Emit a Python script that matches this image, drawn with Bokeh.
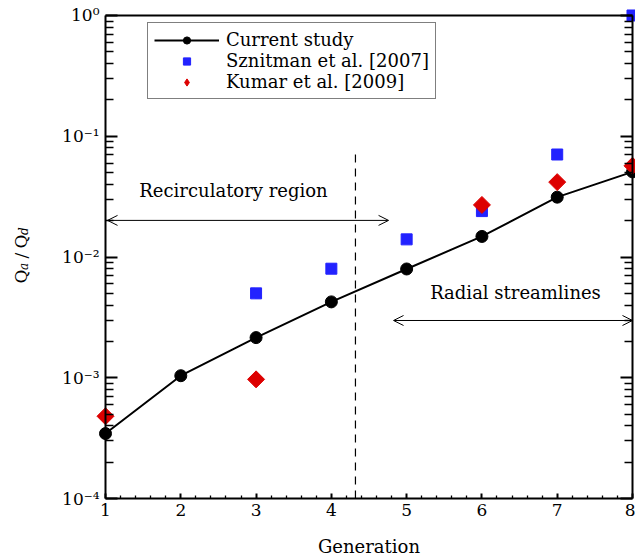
import numpy as np
from bokeh.plotting import figure
from bokeh.models import (Range1d, LogAxis, LinearAxis, FixedTicker, CustomJSTickFormatter,
                          Legend, LegendItem, Label, Arrow, OpenHead, Grid)
from bokeh.embed import file_html
from bokeh.resources import INLINE

# ---------------- data ----------------
generation = [1, 2, 3, 4, 5, 6, 7, 8]
current_study = [3.45e-4, 1.04e-3, 2.15e-3, 4.25e-3, 7.96e-3, 0.0148, 0.0313, 0.0507]

sznitman_gen = [3, 4, 5, 6, 7, 8]
sznitman = [0.0050, 0.0080, 0.0140, 0.0240, 0.0706, 1.0]

kumar_gen = [1, 3, 6, 7, 8]
kumar = [4.8e-4, 9.7e-4, 0.0270, 0.0417, 0.0569]

x_ticks = [1, 2, 3, 4, 5, 6, 7, 8]
y_ticks = [1e-4, 1e-3, 1e-2, 1e-1, 1.0]

legend_labels = ["Current study", "Sznitman et al. [2007]", "Kumar et al. [2009]"]

# annotation positions (data coordinates)
divider_gen = 4.32
divider_top = 0.073
recirc_arrow = (1.027, 4.76, 0.0201)
recirc_text = (2.70, 0.0357, "Recirculatory region")
radial_arrow = (4.826, 8.0, 0.00298)
radial_text = (6.446, 0.00506, "Radial streamlines")
xlabel_pos = (4.5, 3.98e-5, "Generation")
ylabel_anchor = (1.0, 0.0105)

FONT = "DejaVu Serif"
BLUE = "#2222ff"
RED = "#dd0000"

x_minor = [a + b for a in range(1, 8) for b in (0.2, 0.4, 0.6, 0.8)]
y_minor = [m * 10.0 ** e for e in range(-4, 0) for m in range(2, 10)]

# the frame fills the whole canvas; axes are pinned to the data edges
p = figure(width=635, height=559, output_backend="svg", toolbar_location=None,
           x_range=Range1d(-0.3948, 8.0399), y_range=Range1d(3.126e-5, 1.331),
           y_axis_type="log", x_axis_location=None, y_axis_location=None,
           min_border_left=0, min_border_right=0, min_border_top=0, min_border_bottom=0)
p.outline_line_color = None
for r in list(p.center):
    if isinstance(r, Grid):
        r.visible = False

fmt = CustomJSTickFormatter(code="""
const sup = {"0":"\u2070","1":"\u00b9","2":"\u00b2","3":"\u00b3","4":"\u2074","-":"\u207b"};
const e = Math.round(Math.log10(tick));
return "10" + String(e).split("").map(c => sup[c]).join("");
""")
blank = CustomJSTickFormatter(code='return "";')

common = dict(axis_line_width=2, major_tick_line_width=2, minor_tick_line_width=1.3,
              major_tick_out=0, minor_tick_out=0)

left = LogAxis(ticker=FixedTicker(ticks=y_ticks, minor_ticks=y_minor), formatter=fmt,
               fixed_location=x_ticks[0], bounds=(y_ticks[0], y_ticks[-1]),
               major_tick_in=12, minor_tick_in=8, major_label_standoff=6,
               major_label_text_font=FONT, major_label_text_font_size="17px",
               major_label_text_color="black", **common)
p.add_layout(left, "left")

right = LogAxis(ticker=FixedTicker(ticks=y_ticks, minor_ticks=y_minor), formatter=blank,
                fixed_location=x_ticks[-1], bounds=(y_ticks[0], y_ticks[-1]),
                major_tick_in=12, minor_tick_in=8, major_label_standoff=0, **common)
p.add_layout(right, "right")

bottom = LinearAxis(ticker=FixedTicker(ticks=x_ticks, minor_ticks=x_minor),
                    fixed_location=y_ticks[0], bounds=(x_ticks[0], x_ticks[-1]),
                    major_tick_in=5, minor_tick_in=3, major_label_standoff=5,
                    major_label_text_font=FONT, major_label_text_font_size="17px",
                    major_label_text_color="black", **common)
p.add_layout(bottom, "below")

top = LinearAxis(ticker=FixedTicker(ticks=[]), formatter=blank,
                 fixed_location=y_ticks[-1], bounds=(x_ticks[0], x_ticks[-1]),
                 major_tick_in=0, minor_tick_in=0, major_label_standoff=0, **common)
p.add_layout(top, "above")

# ---------------- glyphs ----------------
p.line([divider_gen, divider_gen], [y_ticks[0], divider_top], line_color="black",
       line_width=1.2, line_dash="8 6")

ln = p.line(generation, current_study, line_color="black", line_width=2)
cs = p.scatter(generation, current_study, marker="circle", size=12,
               fill_color="black", line_color="black")
sz = p.scatter(sznitman_gen, sznitman, marker="square", size=11,
               fill_color=BLUE, line_color=BLUE)
ku = p.scatter(kumar_gen, kumar, marker="square", angle=np.pi / 4, size=12,
               fill_color=RED, line_color=RED)
# hidden twin of the Kumar series, used only for the legend's diamond symbol
ku_legend = p.scatter(kumar_gen, kumar, marker="diamond", size=12,
                      fill_color=RED, line_color=RED, visible=False)

# arrows and texts
for (x0, x1, yy) in (recirc_arrow, radial_arrow):
    p.add_layout(Arrow(x_start=x0, x_end=x1, y_start=yy, y_end=yy, line_width=1,
                       line_color="black",
                       start=OpenHead(size=10, line_width=1, line_color="black"),
                       end=OpenHead(size=10, line_width=1, line_color="black")))
for (tx, ty, tt) in (recirc_text, radial_text, xlabel_pos):
    p.add_layout(Label(x=tx, y=ty, text=tt, text_align="center", text_baseline="middle",
                       text_font=FONT, text_font_size="18px", text_color="black"))

# y-axis label Q_a / Q_d composed from pieces (pixel offsets from an anchor)
ylab_parts = [("Q", -85, -29, "17px", "normal"),
              ("a", -82, -15.5, "12px", "italic"),
              ("/", -85, -4, "17px", "normal"),
              ("Q", -85, 6, "17px", "normal"),
              ("d", -82, 19.5, "12px", "italic")]
for (t, ox, oy, fs, st) in ylab_parts:
    p.add_layout(Label(x=ylabel_anchor[0], y=ylabel_anchor[1], x_offset=ox, y_offset=oy,
                       text=t, angle=np.pi / 2, text_align="left", text_baseline="alphabetic",
                       text_font=FONT, text_font_size=fs, text_font_style=st,
                       text_color="black"))

legend = Legend(items=[LegendItem(label=legend_labels[0], renderers=[ln, cs]),
                       LegendItem(label=legend_labels[1], renderers=[sz]),
                       LegendItem(label=legend_labels[2], renderers=[ku_legend])],
                location=(147, 460), glyph_width=65, glyph_height=18, label_height=18,
                spacing=0, padding=6, margin=0, label_standoff=7,
                border_line_color="black", border_line_width=1.3,
                background_fill_color="white", background_fill_alpha=1.0,
                label_text_font=FONT, label_text_font_size="18px", label_text_color="black")
p.add_layout(legend, "center")

open("out.html", "w").write(file_html(p, INLINE))
